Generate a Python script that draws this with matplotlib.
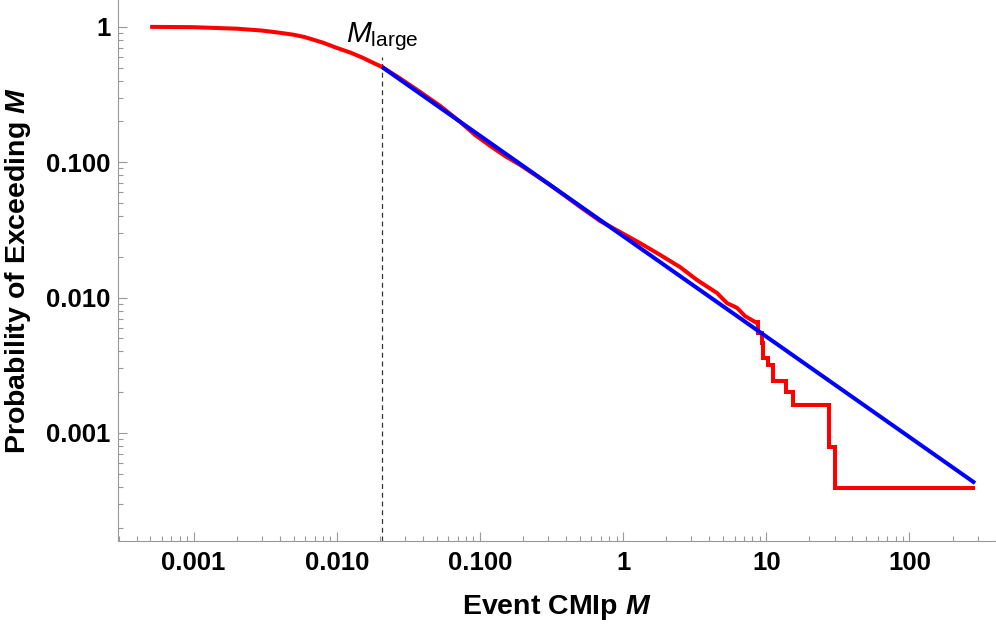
"""Exceedance probability of event CMIp with power-law fit above M_large."""

import matplotlib
matplotlib.use("Agg")
import matplotlib.pyplot as plt
from matplotlib.ticker import NullFormatter

ccdf_M = [5.14e-4, 1e-3, 2e-3, 3e-3, 4e-3, 5e-3, 6e-3, 8e-3, 0.01, 0.0125,
          0.015, 0.0175, 0.0207, 0.0277, 0.0382, 0.0527, 0.0727, 0.0925,
          0.118, 0.150, 0.191, 0.243, 0.309, 0.394, 0.501, 0.588, 0.691,
          0.953, 1.31, 1.81, 2.50, 3.28, 4.53, 5.32, 6.25, 7.1, 8.36]
ccdf_P = [1.0, 0.995, 0.97, 0.94, 0.905, 0.875, 0.84, 0.765, 0.70, 0.645,
          0.595, 0.55, 0.506, 0.416, 0.331, 0.261, 0.199, 0.159,
          0.132, 0.111, 0.0955, 0.0806, 0.0679, 0.0564, 0.0468, 0.0415, 0.0368,
          0.0305, 0.0253, 0.0207, 0.0168, 0.0135, 0.0108, 0.0091, 0.0084, 0.0073, 0.0066]

# stepped tail (largest events)
tail_M = [8.36, 8.77, 9.35, 9.5, 10.3, 11.2, 13.7, 15.4, 27.5, 30.2, 287]
tail_P = [0.0066, 0.0055, 0.0046, 0.0036, 0.0032, 0.0024, 0.0020, 0.0016,
          0.00079, 0.00039, 0.00039]

# power-law fit endpoints
fit_M = [0.0207, 287]
fit_P = [0.506, 4.26e-4]

M_large = 0.0207
M_large_top = 0.60

xtick_vals = [0.001, 0.01, 0.1, 1, 10, 100]
xtick_labels = ["0.001", "0.010", "0.100", "1", "10", "100"]
ytick_vals = [0.001, 0.01, 0.1, 1]
ytick_labels = ["0.001", "0.010", "0.100", "1"]

plt.rcParams["font.family"] = ["Liberation Sans", "DejaVu Sans"]
plt.rcParams["mathtext.fontset"] = "custom"
plt.rcParams["mathtext.rm"] = "Liberation Sans"
plt.rcParams["mathtext.it"] = "Liberation Sans:italic"
plt.rcParams["mathtext.bf"] = "Liberation Sans:bold"
plt.rcParams["mathtext.bfit"] = "Liberation Sans:bold:italic"

fig = plt.figure(figsize=(9.96, 6.24), dpi=100)
ax = fig.add_axes([0.1185, 0.133, 0.8815, 0.867])
ax.set_xscale("log")
ax.set_yscale("log")
ax.set_xlim(2.97e-4, 402)
ax.set_ylim(1.59e-4, 1.58)

ymin = ax.get_ylim()[0]
ax.plot([M_large, M_large], [ymin, M_large_top], color="#333333", lw=0.9,
        linestyle=(0, (4, 3)))

ax.plot(ccdf_M, ccdf_P, color="#ff0000", lw=2.9, solid_joinstyle="round")
ax.plot(tail_M, tail_P, color="#ff0000", lw=2.9, drawstyle="steps-post",
        solid_joinstyle="miter", solid_capstyle="butt")
ax.plot(fit_M, fit_P, color="#0000ff", lw=2.9, solid_capstyle="butt")

ax.text(M_large, 0.85, r"$M_{\mathrm{large}}$", fontsize=21.5, ha="center",
        va="center")

for side in ["top", "right"]:
    ax.spines[side].set_visible(False)
for side in ["left", "bottom"]:
    ax.spines[side].set_color("#999999")
    ax.spines[side].set_linewidth(0.8)

ax.set_xticks(xtick_vals, labels=xtick_labels, fontsize=18.5, fontweight="bold")
ax.set_yticks(ytick_vals, labels=ytick_labels, fontsize=18.5, fontweight="bold")
ax.xaxis.set_minor_formatter(NullFormatter())
ax.yaxis.set_minor_formatter(NullFormatter())
ax.tick_params(which="major", direction="in", length=6.5, width=0.8,
               color="#999999")
ax.tick_params(which="minor", direction="in", length=3.5, width=0.8,
               color="#999999")
ax.tick_params(axis="x", which="major", pad=7.5)
ax.tick_params(axis="y", which="major", pad=5.5)

ax.set_xlabel(r"Event CMIp $\mathbfit{M}$", fontsize=20.5, fontweight="bold")
ax.set_ylabel(r"Probability of Exceeding $\mathbfit{M}$", fontsize=20.5,
              fontweight="bold")
ax.xaxis.set_label_coords(0.5, -0.096)
ax.yaxis.set_label_coords(-0.0968, 0.5)

fig.savefig("out.png", dpi=100)
plt.close(fig)
